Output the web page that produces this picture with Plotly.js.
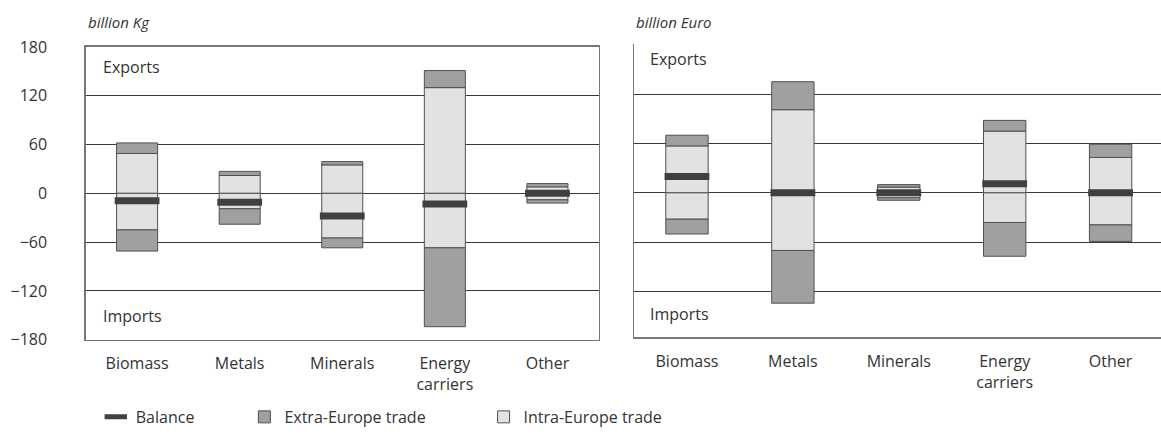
<!DOCTYPE html>
<html>
<head>
<meta charset="utf-8">
<script src="https://cdn.plot.ly/plotly-3.0.1.min.js"></script>
<style>
  body { margin: 0; background: #fff; }
  #chart { width: 1161px; height: 434px; }
</style>
</head>
<body>
<div id="chart"></div>
<script>
// categories on both panels
var categories = ["Biomass", "Metals", "Minerals", "Energy<br>carriers", "Other"];

// left panel - billion Kg
var intraExportKg = [49, 22, 35, 130, 8];
var extraExportKg = [13, 5, 4, 21, 4];
var intraImportKg = [-45, -19, -55, -67, -8];
var extraImportKg = [-26, -19, -12, -97, -4];
var balanceKg = [-9, -11, -28, -13, 0];

// right panel - billion Euro
var intraExportEur = [57, 101, 7, 75, 43];
var extraExportEur = [13, 34, 3, 13, 16];
var intraImportEur = [-32, -70, -6, -36, -39];
var extraImportEur = [-18, -64, -3, -41, -20];
var balanceEur = [20, 0, 0, 11, 0];

var yTicks = [-180, -120, -60, 0, 60, 120, 180];

var extraColor = "#a0a0a0";
var intraColor = "#e2e2e4";
var edgeLine = {color: "#505050", width: 1};
var font = "Open Sans, Lato, sans-serif";

function bars(vals, color, xa, ya, name, legend, show) {
  return {
    type: "bar", x: categories, y: vals, xaxis: xa, yaxis: ya,
    name: name, legend: legend, showlegend: show, width: 0.4,
    marker: {color: color, line: edgeLine}, hoverinfo: "y"
  };
}

function balance(vals, xa, ya, show) {
  return {
    type: "scatter", mode: "markers", x: categories, y: vals, xaxis: xa, yaxis: ya,
    name: "Balance", legend: "legend", showlegend: show,
    marker: {symbol: "line-ew", size: 32, line: {color: "#404040", width: 7}}
  };
}

var data = [
  bars(intraExportKg, intraColor, "x", "y", "Intra-Europe trade", "legend3", true),
  bars(intraImportKg, intraColor, "x", "y", "Intra-Europe trade", "legend3", false),
  bars(extraExportKg, extraColor, "x", "y", "Extra-Europe trade", "legend2", true),
  bars(extraImportKg, extraColor, "x", "y", "Extra-Europe trade", "legend2", false),
  balance(balanceKg, "x", "y", true),
  bars(intraExportEur, intraColor, "x2", "y2", "Intra-Europe trade", "legend3", false),
  bars(intraImportEur, intraColor, "x2", "y2", "Intra-Europe trade", "legend3", false),
  bars(extraExportEur, extraColor, "x2", "y2", "Extra-Europe trade", "legend2", false),
  bars(extraImportEur, extraColor, "x2", "y2", "Extra-Europe trade", "legend2", false),
  balance(balanceEur, "x2", "y2", false)
];

var xCommon = {
  type: "category", range: [-0.5, 4.5], showgrid: false, zeroline: false,
  showline: true, linecolor: "#777777", linewidth: 1.5, mirror: true,
  ticks: "", ticklabelstandoff: 9, fixedrange: true,
  tickfont: {family: font, size: 16, color: "#333333"}
};

function legendAt(x) {
  return {
    orientation: "h", x: x, y: -0.26, xanchor: "left", yanchor: "middle",
    bgcolor: "rgba(0,0,0,0)", font: {family: font, size: 16, color: "#333333"}
  };
}

function note(text, x, y, xa, ya, italic) {
  return {
    text: text, x: x, y: y, xref: xa, yref: ya, showarrow: false,
    xanchor: "left", yanchor: "middle",
    font: {family: font, size: italic ? 15 : 16, color: "#333333", style: italic ? "italic" : "normal"}
  };
}

var layout = {
  width: 1161, height: 434,
  margin: {l: 0, r: 0, t: 44, b: 88},
  paper_bgcolor: "#ffffff", plot_bgcolor: "#ffffff",
  barmode: "relative",
  xaxis: Object.assign({}, xCommon, {domain: [0.0739, 0.5157], anchor: "y"}),
  xaxis2: Object.assign({}, xCommon, {domain: [0.5461, 1], anchor: "y2", range: [-0.5, 4.476], mirror: false}),
  yaxis: {
    domain: [0.001, 0.99], range: [-180, 180], tickvals: yTicks, anchor: "x",
    showgrid: true, gridcolor: "#3a3a3a", gridwidth: 1, zeroline: false,
    showline: true, linecolor: "#777777", linewidth: 1.5, mirror: true,
    ticks: "", ticklabelstandoff: 34, fixedrange: true,
    tickfont: {family: font, size: 16, color: "#333333"}
  },
  yaxis2: {
    domain: [0.009, 1], range: [-175.5, 180.8], tickvals: yTicks, anchor: "x2",
    showgrid: true, gridcolor: "#3a3a3a", gridwidth: 1, zeroline: false,
    showline: true, linecolor: "#777777", linewidth: 1.5, mirror: false,
    showticklabels: false, ticks: "", fixedrange: true
  },
  legend: legendAt(0.0825),
  legend2: legendAt(0.2105),
  legend3: legendAt(0.4165),
  annotations: [
    note("billion Kg", 0.074, 1.073, "paper", "paper", true),
    note("billion Euro", 0.5461, 1.073, "paper", "paper", true),
    note("Exports", 0.03, 0.93, "x domain", "y domain", false),
    note("Imports", 0.03, 0.08, "x domain", "y domain", false),
    note("Exports", 0.026, 0.95, "x2 domain", "y2 domain", false),
    note("Imports", 0.026, 0.08, "x2 domain", "y2 domain", false)
  ],
  showlegend: true
};

Plotly.newPlot("chart", data, layout, {displayModeBar: false, staticPlot: true});
</script>
</body>
</html>
